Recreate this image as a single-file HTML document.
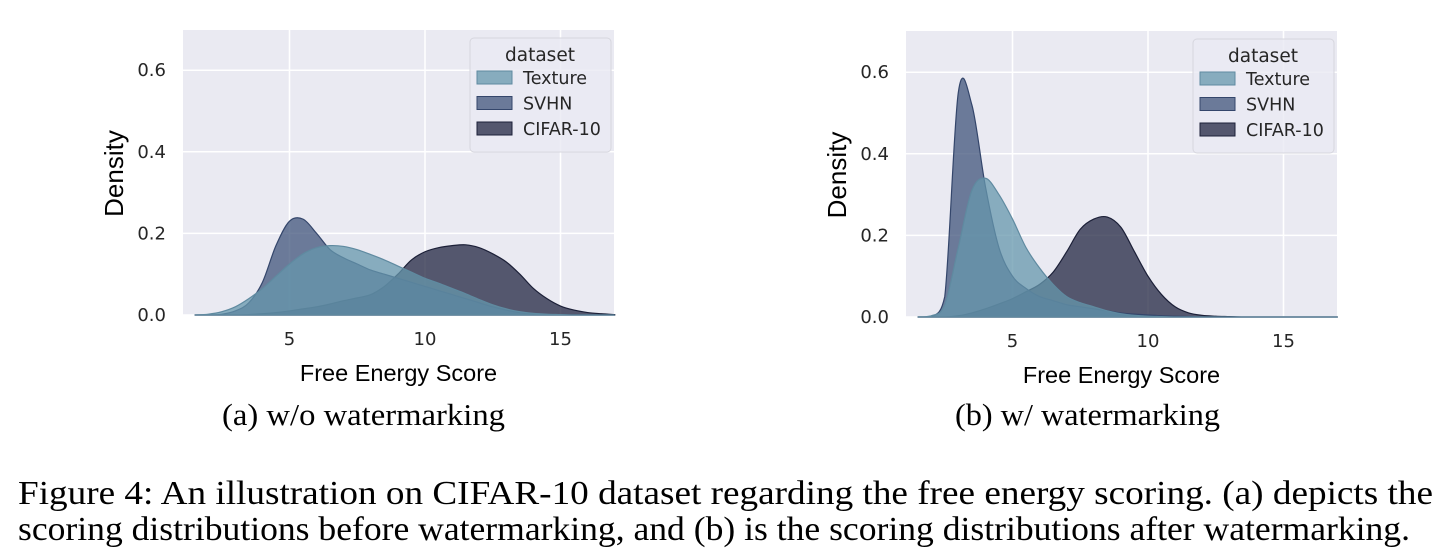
<!DOCTYPE html>
<html><head><meta charset="utf-8"><style>
html,body{margin:0;padding:0;background:#fff;}
svg{display:block;}
</style></head><body>
<svg id="fig" width="1447" height="558" viewBox="0 0 1447 558" xmlns="http://www.w3.org/2000/svg">
<text x="222" y="425" font-family="Liberation Serif, serif" font-size="31" textLength="283" lengthAdjust="spacingAndGlyphs" fill="#000">(a)  w/o watermarking</text>
<text x="955" y="425" font-family="Liberation Serif, serif" font-size="31" textLength="265" lengthAdjust="spacingAndGlyphs" fill="#000">(b)  w/ watermarking</text>
<text x="18" y="504" font-family="Liberation Serif, serif" font-size="34" textLength="1415" lengthAdjust="spacingAndGlyphs" fill="#000">Figure 4:  An illustration on CIFAR-10 dataset regarding the free energy scoring. (a) depicts the</text>
<text x="18" y="540" font-family="Liberation Serif, serif" font-size="34" textLength="1392" lengthAdjust="spacingAndGlyphs" fill="#000">scoring distributions before watermarking, and (b) is the scoring distributions after watermarking.</text>
</svg>
<script>
// grid of x values: 1.0 .. 17.0 step 0.5 (33 points)
const xGrid = [1,1.5,2,2.5,3,3.5,4,4.5,5,5.5,6,6.5,7,7.5,8,8.5,9,9.5,10,10.5,11,11.5,12,12.5,13,13.5,14,14.5,15,15.5,16,16.5,17];
const seriesNames = ["Texture","SVHN","CIFAR-10"];
// Panel (a) w/o watermarking
const aTexture = [0,0,0.002,0.008,0.02,0.04,0.065,0.095,0.125,0.15,0.165,0.17,0.168,0.16,0.148,0.135,0.12,0.105,0.09,0.078,0.065,0.052,0.038,0.025,0.015,0.008,0.004,0.002,0.001,0,0,0,0];
const aSVHN = [0,0,0,0.002,0.01,0.03,0.08,0.17,0.23,0.235,0.2,0.16,0.14,0.125,0.11,0.1,0.09,0.08,0.07,0.06,0.05,0.04,0.03,0.02,0.012,0.006,0.003,0.001,0,0,0,0,0];
const aCIFAR = [0,0,0,0,0,0.001,0.003,0.006,0.01,0.015,0.02,0.027,0.035,0.042,0.05,0.07,0.1,0.135,0.155,0.165,0.17,0.172,0.165,0.15,0.13,0.1,0.065,0.04,0.022,0.012,0.006,0.003,0.001];
// Panel (b) w/ watermarking
const bTexture = [0,0,0.003,0.03,0.17,0.31,0.34,0.3,0.24,0.17,0.12,0.08,0.05,0.035,0.025,0.015,0.008,0.004,0.002,0.001,0,0,0,0,0,0,0,0,0,0,0,0,0];
const bSVHN = [0,0,0,0.05,0.55,0.52,0.32,0.17,0.1,0.07,0.05,0.04,0.03,0.025,0.02,0.015,0.01,0.007,0.005,0.003,0.002,0.001,0,0,0,0,0,0,0,0,0,0,0];
const bCIFAR = [0,0,0,0,0.003,0.01,0.02,0.032,0.045,0.062,0.08,0.11,0.16,0.215,0.24,0.245,0.22,0.16,0.1,0.055,0.025,0.01,0.004,0.002,0.001,0,0,0,0,0,0,0,0];
const xTicks = [5,10,15];
const yTicks = [0,0.2,0.4,0.6];
const yTickLabels = ["0.0","0.2","0.4","0.6"];

const NS = "http://www.w3.org/2000/svg";
const svg = document.getElementById('fig');
function mk(tag, attrs, parent){const e=document.createElementNS(NS,tag);for(const k in attrs)e.setAttribute(k,attrs[k]);(parent||svg).appendChild(e);return e;}

const fills = ["#6597ac","#40547b","#222641"];
const strokes = ["#5f8aa0","#34466b","#1c2038"];

function panel(id, L, R, T, B, y0px, x0px, data){
  const g = mk('g',{});
  
  
  const sx = v => x0px + v*27.1;
  const sy = v => y0px - v*408;
  const bg = mk('rect',{x:L,y:T,width:R-L,height:B-T,fill:'#eaeaf2'},g);
  
  
  yTicks.forEach((t,i)=>{
    const ln = mk('line',{x1:L,x2:R,y1:sy(t),y2:sy(t),stroke:'#fff','stroke-width':1.5},g);
    
    
    const tx = mk('text',{x:L-17,y:sy(t)+6,'text-anchor':'end','font-family':'DejaVu Sans, sans-serif','font-size':18,fill:'#262626'},g);
    tx.textContent = yTickLabels[i];
    
    
  });
  xTicks.forEach(t=>{
    const ln = mk('line',{x1:sx(t),x2:sx(t),y1:T,y2:B,stroke:'#fff','stroke-width':1.5},g);
    
    
    const tx = mk('text',{x:sx(t),y:B+30,'text-anchor':'middle','font-family':'DejaVu Sans, sans-serif','font-size':18,fill:'#262626'},g);
    tx.textContent = String(t);
    
    
  });
  [2,1,0].forEach(si=>{
    const ys = data[si];
    const pts = xGrid.map((x,i)=>[sx(x), sy(ys[i])]).filter(p=>p[0]>=L-1 && p[0]<=R+1);
    let d = 'M'+pts[0][0]+','+y0px+' L'+pts[0][0]+','+pts[0][1];
    for(let i=0;i<pts.length-1;i++){
      const p0=pts[Math.max(0,i-1)],p1=pts[i],p2=pts[i+1],p3=pts[Math.min(pts.length-1,i+2)];
      let c1y=p1[1]+(p2[1]-p0[1])/6, c2y=p2[1]-(p3[1]-p1[1])/6;
      c1y=Math.min(c1y,y0px); c2y=Math.min(c2y,y0px);
      d+=' C'+(p1[0]+(p2[0]-p0[0])/6)+','+c1y+' '+(p2[0]-(p3[0]-p1[0])/6)+','+c2y+' '+p2[0]+','+p2[1];
    }
    d+=' L'+pts[pts.length-1][0]+','+y0px+' Z';
    const path = mk('path',{d:d,fill:fills[si],'fill-opacity':0.75,stroke:strokes[si],'stroke-width':1.2},g);
    
    
  });
  const yt = mk('text',{x:0,y:0,transform:'translate('+(L-60)+','+((T+B)/2+1)+') rotate(-90)','text-anchor':'middle','font-family':'Liberation Sans, sans-serif','font-size':26,fill:'#000'},g);
  yt.textContent='Density';
  
  
  const xt = mk('text',{x:(L+R)/2,y:B+66,'text-anchor':'middle','font-family':'Liberation Sans, sans-serif','font-size':23.5,fill:'#000'},g);
  xt.textContent='Free Energy Score';
  
  
  const lx = R-144, ly = T+8;
  const lg = mk('g',{},g);
  
  
  mk('rect',{x:lx,y:ly,width:141,height:114,rx:4,fill:'#eaeaf2','fill-opacity':0.8,stroke:'#d6d6de'},lg);
  const lt = mk('text',{x:lx+70,y:ly+23,'text-anchor':'middle','font-family':'DejaVu Sans, sans-serif','font-size':18.5,fill:'#262626'},lg);
  lt.textContent='dataset';
  
  
  seriesNames.forEach((n,i)=>{
    const yy = ly+33+i*25.5;
    const sw = mk('rect',{x:lx+7,y:yy,width:35,height:13,fill:fills[i],'fill-opacity':0.75,stroke:strokes[i]},lg);
    
    
    const t = mk('text',{x:lx+53,y:yy+13,'font-family':'DejaVu Sans, sans-serif','font-size':17.5,fill:'#262626'},lg);
    t.textContent=n;
    
    
  });
}
panel('a',183,614,30,315,315,154,[aTexture,aSVHN,aCIFAR]);
panel('b',906,1337,31,317,317,877,[bTexture,bSVHN,bCIFAR]);
</script>
</body></html>
